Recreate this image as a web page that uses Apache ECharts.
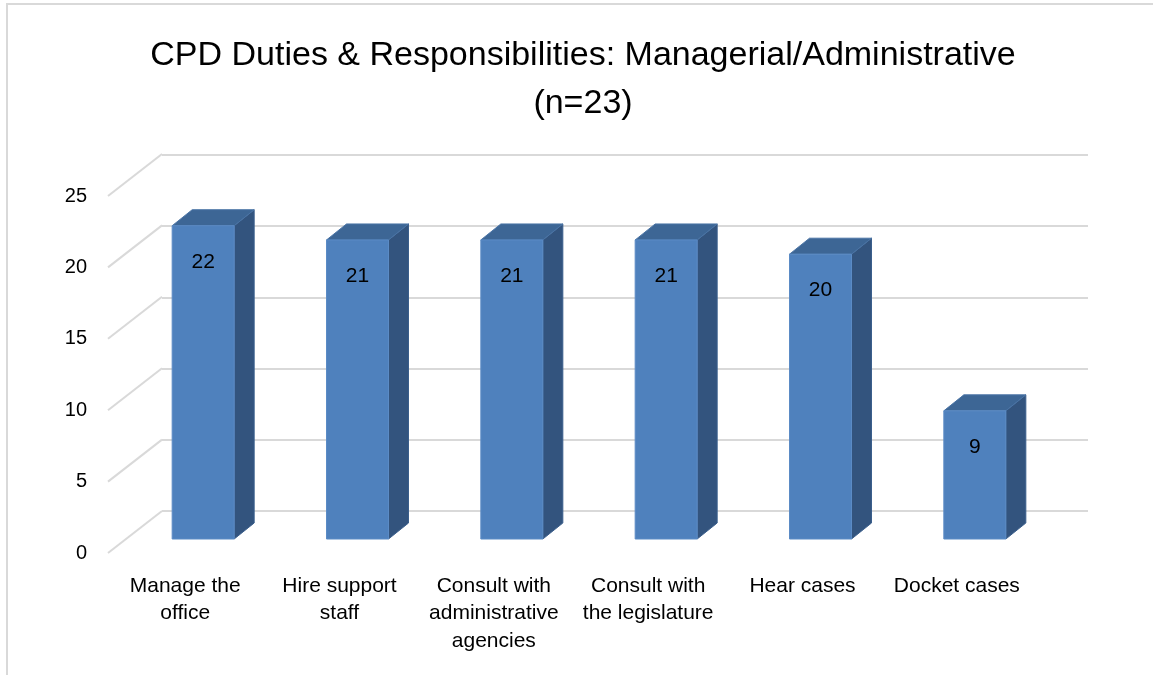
<!DOCTYPE html>
<html>
<head>
<meta charset="utf-8">
<script src="https://cdn.jsdelivr.net/npm/echarts@6/dist/echarts.min.js"></script>
<style>
    html, body { margin: 0; padding: 0; background: #fff; }
    #chart { width: 1153px; height: 675px; }
</style>
</head>
<body>
<div id="chart"></div>
<script>
    // data
    const categories = [
        'Manage the\noffice',
        'Hire support\nstaff',
        'Consult with\nadministrative\nagencies',
        'Consult with\nthe legislature',
        'Hear cases',
        'Docket cases'
    ];
    const values = [22, 21, 21, 21, 20, 9];
    const yTicks = [0, 5, 10, 15, 20, 25];

    // 3d look
    const WALL_DX = 54, WALL_DY = 42;   // front plane -> back wall
    const FRONT_DX = 36, FRONT_DY = 28; // back wall -> bar front face
    const BAR_W = 62;
    const SIDE_DX = 20, SIDE_DY = 16;
    const FONT = '"Liberation Sans", Arial, sans-serif';

    const myChart = echarts.init(document.getElementById('chart'));

    function renderBar (params, api) {
        const i = api.value(0);
        const v = api.value(1);
        const top = api.coord([i, v]);
        const base = api.coord([i, 0]);
        const x0 = top[0] - FRONT_DX - BAR_W / 2;
        const x1 = x0 + BAR_W;
        const yt = top[1] + FRONT_DY;
        const yb = base[1] + FRONT_DY;
        return {
            type: 'group',
            children: [
                {
                    type: 'polygon',
                    shape: {points: [[x1, yt], [x1 + SIDE_DX, yt - SIDE_DY], [x1 + SIDE_DX, yb - SIDE_DY], [x1, yb]]},
                    style: {fill: '#33547e', stroke: '#3b5f8c', lineWidth: 1}
                },
                {
                    type: 'polygon',
                    shape: {points: [[x0, yt], [x0 + SIDE_DX, yt - SIDE_DY], [x1 + SIDE_DX, yt - SIDE_DY], [x1, yt]]},
                    style: {fill: '#3d6695', stroke: '#4a74a6', lineWidth: 1}
                },
                {
                    type: 'rect',
                    shape: {x: x0, y: yt, width: BAR_W, height: yb - yt},
                    style: {fill: '#4f81bd', stroke: '#5b8bc5', lineWidth: 1}
                },
                {
                    type: 'text',
                    style: {
                        x: x0 + BAR_W / 2,
                        y: yt + 36,
                        text: String(v),
                        align: 'center',
                        verticalAlign: 'middle',
                        fill: '#000',
                        font: '21px ' + FONT
                    }
                }
            ]
        };
    }

    function renderDiagonal (params, api) {
        const left = params.coordSys.x;
        const y = api.coord([0, api.value(1)])[1];
        return {
            type: 'line',
            shape: {x1: left, y1: y, x2: left + WALL_DX, y2: y - WALL_DY},
            style: {stroke: '#d9d9d9', lineWidth: 2}
        };
    }

    const option = {
        backgroundColor: '#fff',
        animation: false,
        title: {
            text: 'CPD Duties & Responsibilities: Managerial/Administrative\n(n=23)',
            left: 578,
            top: 27,
            textAlign: 'center',
            textStyle: {
                fontFamily: FONT,
                fontSize: 34,
                fontWeight: 'normal',
                lineHeight: 48,
                color: '#000'
            }
        },
        graphic: [
            {
                type: 'rect',
                shape: {x: 7, y: 4, width: 1300, height: 800},
                style: {fill: 'none', stroke: '#d9d9d9', lineWidth: 2},
                silent: true
            }
        ],
        grid: [
            // back wall
            {left: 162, right: 65, top: 155, bottom: 164},
            // front plane
            {left: 108, right: 119, top: 196, bottom: 122}
        ],
        xAxis: [
            {
                gridIndex: 0,
                type: 'category',
                data: categories,
                axisLine: {show: false},
                axisTick: {show: false},
                axisLabel: {show: false}
            },
            {
                gridIndex: 1,
                type: 'category',
                data: categories,
                axisLine: {show: false},
                axisTick: {show: false},
                axisLabel: {
                    margin: 19,
                    interval: 0,
                    fontFamily: FONT,
                    fontSize: 21,
                    lineHeight: 27.5,
                    color: '#000'
                }
            }
        ],
        yAxis: [
            {
                gridIndex: 0,
                type: 'value',
                min: 0,
                max: 25,
                interval: 5,
                axisLine: {show: false},
                axisTick: {show: false},
                axisLabel: {show: false},
                splitLine: {lineStyle: {color: '#d9d9d9', width: 2}}
            },
            {
                gridIndex: 1,
                type: 'value',
                min: 0,
                max: 25,
                interval: 5,
                axisLine: {show: false},
                axisTick: {show: false},
                splitLine: {show: false},
                axisLabel: {
                    margin: 21,
                    fontFamily: FONT,
                    fontSize: 20,
                    color: '#000'
                }
            }
        ],
        series: [
            {
                type: 'custom',
                xAxisIndex: 1,
                yAxisIndex: 1,
                renderItem: renderDiagonal,
                data: yTicks.map(v => [0, v]),
                encode: {x: 0, y: 1},
                silent: true,
                z: 1
            },
            {
                type: 'custom',
                xAxisIndex: 0,
                yAxisIndex: 0,
                renderItem: renderBar,
                data: values.map((v, i) => [i, v]),
                encode: {x: 0, y: 1},
                z: 5
            }
        ]
    };
    myChart.setOption(option);
</script>
</body>
</html>
